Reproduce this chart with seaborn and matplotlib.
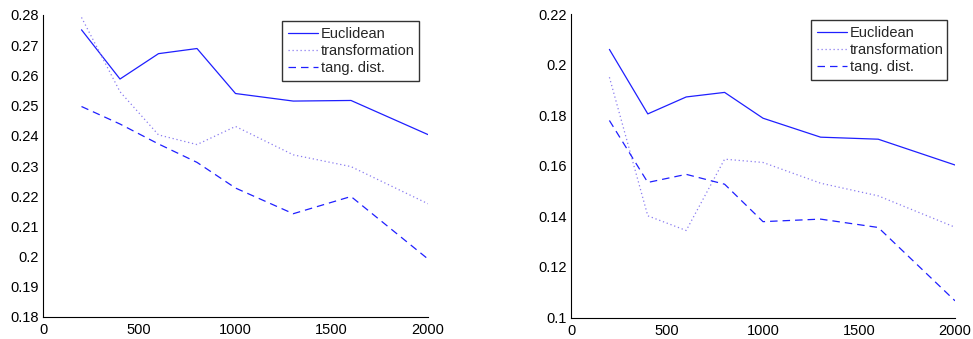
import matplotlib
matplotlib.use("Agg")
import matplotlib.pyplot as plt
import seaborn as sns
import pandas as pd

sns.set_style("white")
plt.rcParams['font.family'] = ['Liberation Sans', 'DejaVu Sans']

x_vals = [200, 400, 600, 800, 1000, 1300, 1600, 2000]

left_euclid = [0.2751, 0.2588, 0.2672, 0.2689, 0.2540, 0.2515, 0.2517, 0.2404]
left_transf = [0.2792, 0.2546, 0.2403, 0.2371, 0.2431, 0.2337, 0.2298, 0.2175]
left_tang = [0.2497, 0.2439, 0.2373, 0.2312, 0.2227, 0.2142, 0.2199, 0.1992]

right_euclid = [0.2060, 0.1805, 0.1872, 0.1890, 0.1788, 0.1713, 0.1705, 0.1603]
right_transf = [0.1950, 0.1402, 0.1344, 0.1626, 0.1613, 0.1531, 0.1481, 0.1357]
right_tang = [0.1779, 0.1534, 0.1566, 0.1527, 0.1379, 0.1389, 0.1356, 0.1066]

series_names = ["Euclidean", "transformation", "tang. dist."]

left_yticks = [0.18, 0.19, 0.2, 0.21, 0.22, 0.23, 0.24, 0.25, 0.26, 0.27, 0.28]
left_ylabels = ["0.18", "0.19", "0.2", "0.21", "0.22", "0.23", "0.24", "0.25", "0.26", "0.27", "0.28"]
right_yticks = [0.1, 0.12, 0.14, 0.16, 0.18, 0.2, 0.22]
right_ylabels = ["0.1", "0.12", "0.14", "0.16", "0.18", "0.2", "0.22"]
xticks = [0, 500, 1000, 1500, 2000]
xlabels = ["0", "500", "1000", "1500", "2000"]

styles = {
    "Euclidean": dict(color="#1f1fff", linestyle="-", linewidth=0.9),
    "transformation": dict(color="#8a7cf0", linestyle=(0, (1, 2.2)), linewidth=0.9),
    "tang. dist.": dict(color="#1f1fff", linestyle=(0, (6, 4)), linewidth=0.9),
}

fig = plt.figure(figsize=(9.73, 3.39), dpi=100)
ax1 = fig.add_axes([43 / 973, 1 - 317 / 339, (428 - 43) / 973, (317 - 15) / 339])
ax2 = fig.add_axes([571 / 973, 1 - 317.5 / 339, (955 - 571) / 973, (317.5 - 14) / 339])

panels = [
    (ax1, [left_euclid, left_transf, left_tang], (0.18, 0.28), left_yticks, left_ylabels, (282, 21, 419, 77)),
    (ax2, [right_euclid, right_transf, right_tang], (0.1, 0.22), right_yticks, right_ylabels, (811, 20, 947, 76)),
]

for ax, data, ylim, yt, yl, lg in panels:
    for name, vals in zip(series_names, data):
        df = pd.DataFrame({"x": x_vals, "y": vals})
        sns.lineplot(data=df, x="x", y="y", ax=ax, label=name, **styles[name])
    ax.set_xlim(0, 2000)
    ax.set_ylim(*ylim)
    ax.set_xticks(xticks)
    ax.set_xticklabels(xlabels)
    ax.set_yticks(yt)
    ax.set_yticklabels(yl)
    ax.set_xlabel("")
    ax.set_ylabel("")
    for s in ["top", "right"]:
        ax.spines[s].set_visible(False)
    for s in ["left", "bottom"]:
        ax.spines[s].set_color("black")
        ax.spines[s].set_linewidth(0.8)
    ax.tick_params(direction="in", length=4, width=0.6, labelsize=10.5, colors="black", pad=3)
    ax.tick_params(axis="x", pad=4.5)
    x0, y0, x1, y1 = lg
    leg = ax.legend(loc="upper left",
                    bbox_to_anchor=(x0 / 973, 1 - y1 / 339, (x1 - x0) / 973, (y1 - y0) / 339),
                    bbox_transform=fig.transFigure, mode="expand",
                    fontsize=10.5, frameon=True, fancybox=False, handlelength=2.1,
                    handletextpad=0.15, borderpad=0.4, labelspacing=0.2, borderaxespad=0)
    leg.get_frame().set_edgecolor("black")
    leg.get_frame().set_linewidth(1.0)

fig.savefig("out.png", dpi=100)
